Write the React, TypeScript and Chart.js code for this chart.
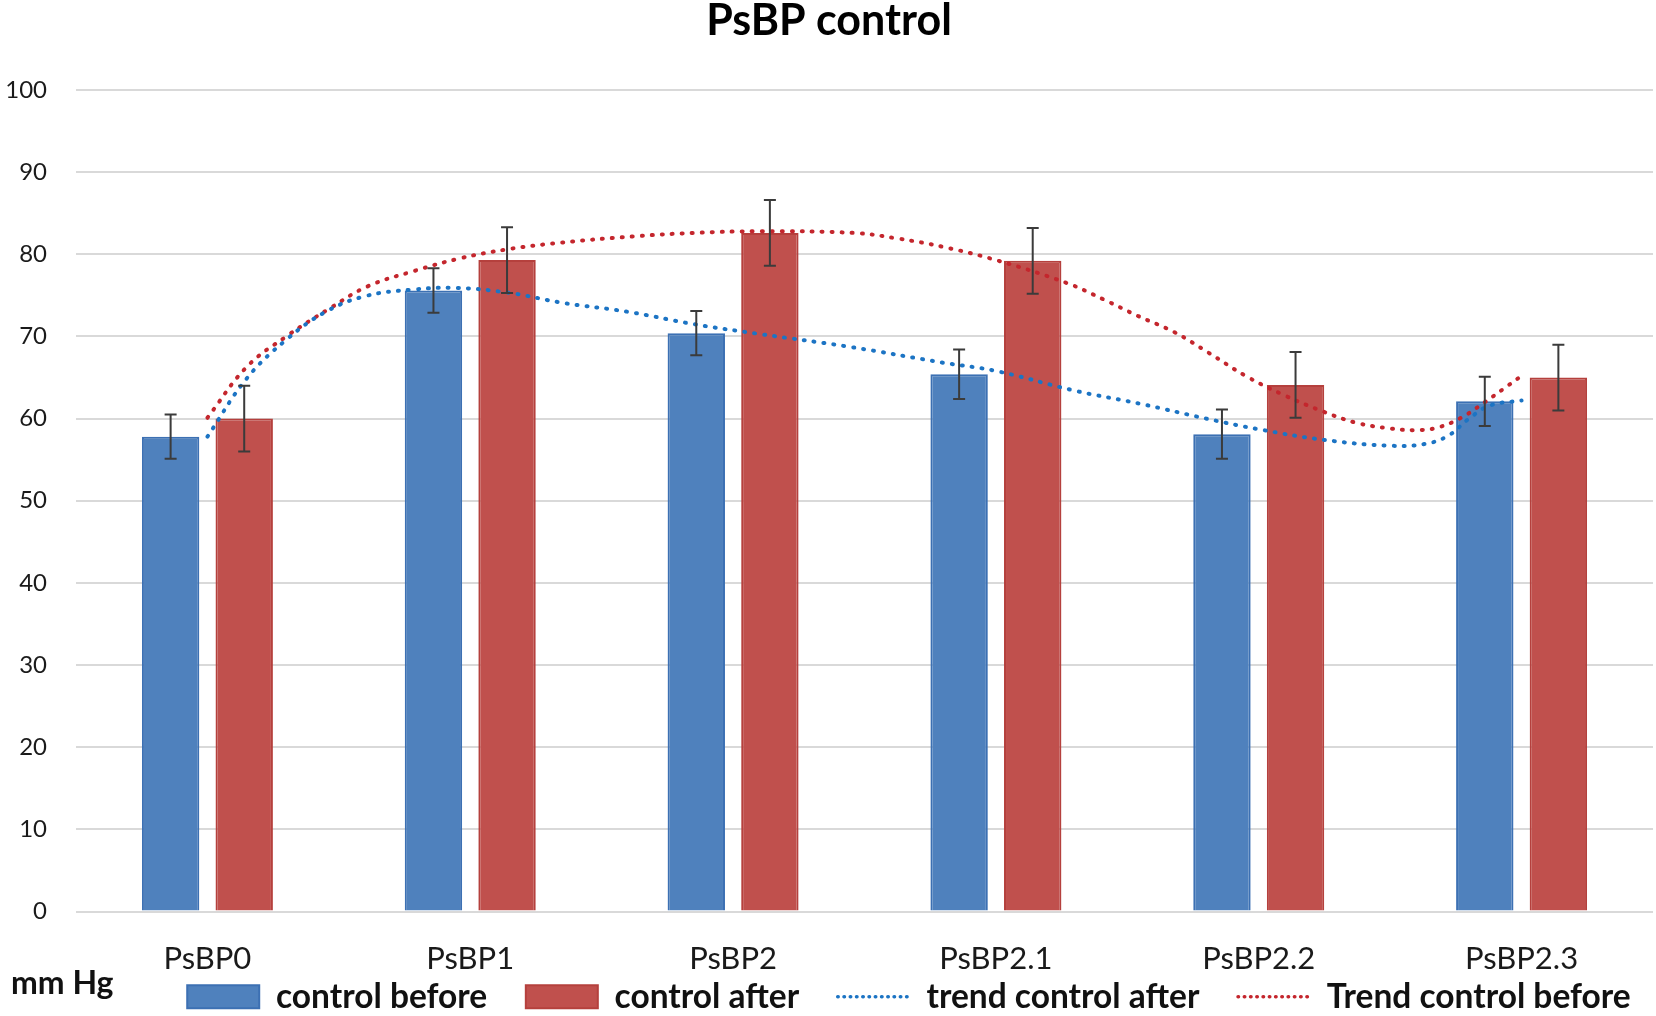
import React, { useEffect, useRef } from "react";
import { Chart, registerables } from "chart.js";

Chart.register(...registerables);

const FONT = 'Lato, "Liberation Sans", sans-serif';

const categories = ["PsBP0", "PsBP1", "PsBP2", "PsBP2.1", "PsBP2.2", "PsBP2.3"];
const controlBefore = [57.8, 75.6, 70.4, 65.4, 58.1, 62.1];
const controlAfter = [60.0, 79.3, 82.6, 79.2, 64.1, 65.0];
const errBefore = [2.7, 2.7, 2.7, 3.0, 3.0, 3.0];
const errAfter = [4.0, 4.0, 4.0, 4.0, 4.0, 4.0];

// trend lines: [category position, value]
const trendAfterPts: [number, number][] = [
  [0, 57.8], [0.15, 64.9], [0.3, 69.6], [0.45, 73.0], [0.6, 74.9], [0.78, 75.7],
  [0.95, 75.9], [1.15, 75.3], [1.35, 74.1], [1.6, 73.0], [1.85, 71.5], [2.1, 70.3],
  [2.45, 68.7], [2.8, 66.8], [3.0, 65.8], [3.3, 63.4], [3.55, 61.8], [3.8, 60.0],
  [4.0, 58.7], [4.25, 57.4], [4.5, 56.7], [4.63, 56.9], [4.72, 57.9], [4.8, 60.0],
  [4.88, 61.6], [5.0, 62.2],
];
const trendBeforePts: [number, number][] = [
  [0, 60.1], [0.15, 66.3], [0.3, 70.0], [0.47, 73.5], [0.61, 76.1], [0.79, 78.0],
  [0.96, 79.5], [1.14, 80.6], [1.34, 81.4], [1.63, 82.2], [1.85, 82.6], [2.1, 82.8],
  [2.46, 82.6], [2.63, 81.9], [2.8, 80.9], [3.0, 79.3], [3.27, 76.5], [3.41, 74.5],
  [3.54, 72.5], [3.68, 70.5], [3.81, 68.0], [3.95, 65.2], [4.1, 62.8], [4.25, 60.8],
  [4.37, 59.5], [4.5, 58.8], [4.6, 58.6], [4.68, 58.9], [4.77, 60.1], [4.86, 62.0],
  [4.93, 63.6], [5.0, 65.2],
];
const yTicks = { min: 0, max: 100, step: 10 };

const errorBarPlugin = {
  id: "errorBars",
  afterDatasetsDraw(chart: any) {
    const ctx = chart.ctx;
    const ys = chart.scales.y;
    const sets: [number, number[], number[]][] = [
      [0, controlBefore, errBefore],
      [1, controlAfter, errAfter],
    ];
    sets.forEach(([di, vals, errs]) => {
      const meta = chart.getDatasetMeta(di);
      meta.data.forEach((bar: any, i: number) => {
        const x = bar.x;
        const top = ys.getPixelForValue(vals[i] + errs[i]);
        const bot = ys.getPixelForValue(vals[i] - errs[i]);
        ctx.save();
        ctx.strokeStyle = "#3b3b3b";
        ctx.lineWidth = 2;
        ctx.beginPath();
        ctx.moveTo(x, top);
        ctx.lineTo(x, bot);
        ctx.moveTo(x - 6, top);
        ctx.lineTo(x + 6, top);
        ctx.moveTo(x - 6, bot);
        ctx.lineTo(x + 6, bot);
        ctx.stroke();
        ctx.restore();
      });
    });
  },
};

export default function App() {
  const ref = useRef<HTMLCanvasElement | null>(null);
  useEffect(() => {
    if (!ref.current) return;
    const lineCommon = {
      type: "line",
      borderWidth: 4,
      borderDash: [1, 9],
      borderCapStyle: "round",
      pointRadius: 0,
      pointHoverRadius: 0,
      fill: false,
      tension: 0.4,
      order: 0,
      pointStyle: "line",
    };
    const chart = new Chart(ref.current, {
      type: "bar",
      data: {
        datasets: [
          {
            type: "bar",
            label: "control before",
            data: controlBefore.map((v, i) => ({ x: i, y: v })),
            backgroundColor: "#4F81BD",
            borderColor: "#3C70B3",
            borderWidth: 2,
            order: 1,
            pointStyle: "rect",
          } as any,
          {
            type: "bar",
            label: "control after",
            data: controlAfter.map((v, i) => ({ x: i, y: v })),
            backgroundColor: "#C0504D",
            borderColor: "#B5403D",
            borderWidth: 2,
            order: 1,
            pointStyle: "rect",
          } as any,
          {
            ...lineCommon,
            label: "trend control after",
            data: trendAfterPts.map(([x, y]) => ({ x, y })),
            borderColor: "#1C74C4",
            pointBorderColor: "#1C74C4",
          } as any,
          {
            ...lineCommon,
            label: "Trend control before",
            data: trendBeforePts.map(([x, y]) => ({ x, y })),
            borderColor: "#C4262D",
            pointBorderColor: "#C4262D",
          } as any,
        ],
      },
      options: {
        responsive: false,
        animation: false,
        events: [],
        layout: { padding: { left: 5, right: 3, top: 0, bottom: 2 } },
        datasets: {
          bar: { categoryPercentage: 0.56, barPercentage: 0.78 },
        } as any,
        scales: {
          x: {
            type: "linear",
            min: -0.5,
            max: 5.5,
            offset: false,
            grid: { display: false, drawTicks: false, offset: false },
            border: { display: false },
            afterBuildTicks: (scale: any) => {
              scale.ticks = categories.map((_, i) => ({ value: i }));
            },
            afterFit: (scale: any) => {
              scale.paddingLeft = 0;
              scale.paddingRight = 0;
              scale.height = 62.5;
            },
            ticks: {
              autoSkip: false,
              maxRotation: 0,
              padding: 32,
              color: "#1a1a1a",
              font: { family: FONT, size: 31, lineHeight: 1 },
              callback: (v: any) => categories[Math.round(v)] ?? "",
            },
          },
          y: {
            min: yTicks.min,
            max: yTicks.max,
            grid: { color: "#d9d9d9", lineWidth: 2, drawTicks: false },
            border: { display: false },
            afterFit: (scale: any) => {
              scale.paddingTop = 0;
              scale.paddingBottom = 0;
              scale.width = 71;
            },
            ticks: {
              stepSize: yTicks.step,
              padding: 29,
              color: "#1a1a1a",
              font: { family: FONT, size: 24 },
            },
          },
        },
        plugins: {
          title: {
            display: true,
            text: "PsBP control",
            color: "#000",
            font: { family: FONT, size: 43, weight: "bold", lineHeight: 1 },
            padding: { top: 0, bottom: 47 },
          },
          tooltip: { enabled: false },
          legend: {
            position: "bottom",
            align: "end",
            maxHeight: 40,
            labels: {
              usePointStyle: true,
              pointStyleWidth: 72,
              boxHeight: 23,
              padding: 6,
              color: "#111",
              font: { family: FONT, size: 33.5, weight: "bold" },
              sort: (a: any, b: any) => a.datasetIndex - b.datasetIndex,
              generateLabels: (c: any) => {
                const items = (Chart.defaults as any).plugins.legend.labels.generateLabels(c);
                return items.map((it: any) => {
                  const ds = c.data.datasets[it.datasetIndex];
                  const isLine = ds.type === "line";
                  return {
                    ...it,
                    text: it.text + (it.datasetIndex === 3 ? "  " : "    "),
                    strokeStyle: ds.borderColor,
                    lineWidth: isLine ? 3.5 : 2,
                    lineDash: isLine ? [0.5, 5.76] : [],
                    lineCap: isLine ? "round" : "butt",
                  };
                });
              },
            },
          },
        },
      } as any,
      plugins: [errorBarPlugin],
    });
    return () => chart.destroy();
  }, []);

  return (
    <div style={{ position: "absolute", left: 0, top: 0, width: 1656, height: 1016, background: "#fff" }}>
      <canvas ref={ref} width={1656} height={1016} style={{ width: 1656, height: 1016, display: "block" }} />
      <div
        style={{
          position: "absolute",
          left: 11,
          top: 964,
          fontFamily: FONT,
          fontWeight: "bold",
          fontSize: 32,
          lineHeight: "36px",
          color: "#111",
          whiteSpace: "nowrap",
        }}
      >
        mm Hg
      </div>
    </div>
  );
}
